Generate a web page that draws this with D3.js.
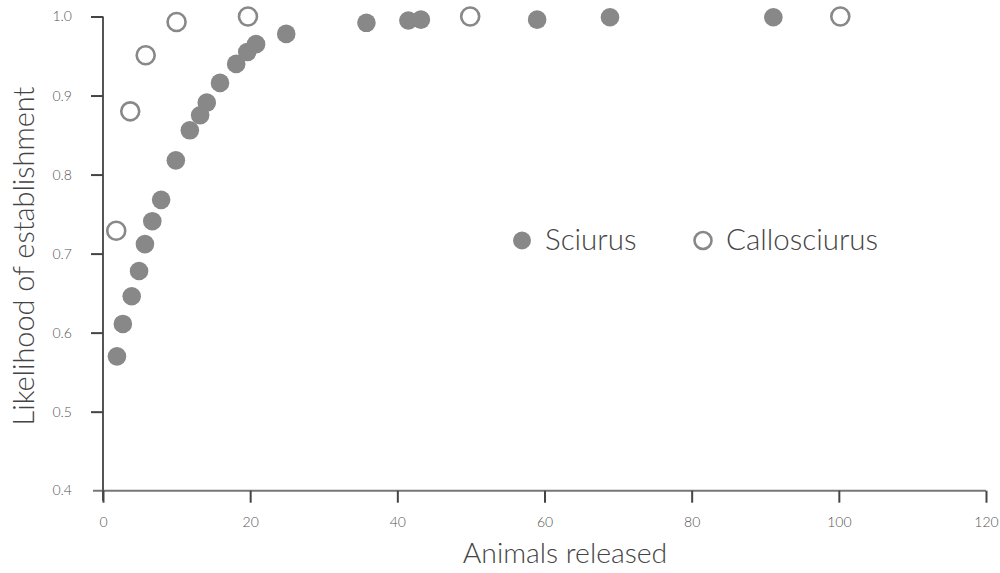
<!DOCTYPE html>
<html>
<head>
<meta charset="utf-8">
<script src="https://cdn.jsdelivr.net/npm/d3@7"></script>
<style>
  body { margin: 0; background: #fff; }
  svg { font-family: Lato, "Open Sans", sans-serif; font-weight: 300; }
  .tick text { fill: #555; font-size: 14px; }
  .tick line { stroke: #444; stroke-width: 2; }
</style>
</head>
<body>
<div id="chart"></div>
<script>
// Sciurus (filled markers)
var sciurusX = [1.9, 2.7, 3.9, 4.9, 5.7, 6.7, 7.9, 9.9, 11.8, 13.2, 14.1, 15.9, 18.1, 19.6, 20.8, 24.9, 35.8, 41.5, 43.2, 59.0, 68.9, 91.1];
var sciurusY = [0.570, 0.611, 0.646, 0.678, 0.712, 0.741, 0.768, 0.818, 0.856, 0.875, 0.891, 0.916, 0.940, 0.955, 0.965, 0.978, 0.992, 0.995, 0.996, 0.996, 0.999, 0.999];
// Callosciurus (open markers)
var calloX = [1.8, 3.7, 5.8, 10.0, 19.7, 49.9, 100.2];
var calloY = [0.729, 0.880, 0.951, 0.993, 1.0, 1.0, 1.0];

var xTicks = [0, 20, 40, 60, 80, 100, 120];
var yTicks = [0.4, 0.5, 0.6, 0.7, 0.8, 0.9, 1.0];
var legendNames = ["Sciurus", "Callosciurus"];

var W = 1000, H = 573;
var svg = d3.select("#chart").append("svg")
    .attr("width", W)
    .attr("height", H);

var x = d3.scaleLinear().domain([0, 120]).range([103, 986]);
var y = d3.scaleLinear().domain([0.4, 1.0]).range([490.7, 16.5]);

// axis lines
svg.append("line")
    .attr("x1", x(0) - 10).attr("x2", x(120))
    .attr("y1", y(0.4)).attr("y2", y(0.4))
    .attr("stroke", "#777").attr("stroke-width", 2);
svg.append("line")
    .attr("x1", x(0)).attr("x2", x(0))
    .attr("y1", y(1.0)).attr("y2", y(0.4) + 10)
    .attr("stroke", "#555").attr("stroke-width", 2);

var gx = svg.append("g")
    .attr("transform", "translate(0," + y(0.4) + ")")
    .call(d3.axisBottom(x).tickValues(xTicks).tickSize(12).tickPadding(14))
    .attr("font-family", null).attr("font-size", null);
gx.select(".domain").remove();

var gy = svg.append("g")
    .attr("transform", "translate(" + x(0) + ",0)")
    .call(d3.axisLeft(y).tickValues(yTicks.slice(1)).tickSize(12).tickPadding(19).tickFormat(d3.format(".1f")))
    .attr("font-family", null).attr("font-size", null);
gy.select(".domain").remove();
// 0.4 label without tick
svg.append("text")
    .attr("x", x(0) - 31).attr("y", y(0.4))
    .attr("dy", "0.32em")
    .attr("text-anchor", "end")
    .attr("fill", "#555").attr("font-size", 14)
    .text(d3.format(".1f")(yTicks[0]));

// points
var sciurus = sciurusX.map(function(d, i) { return [d, sciurusY[i]]; });
var callo = calloX.map(function(d, i) { return [d, calloY[i]]; });

svg.selectAll(".sci")
    .data(sciurus)
  .enter().append("circle")
    .attr("class", "sci")
    .attr("cx", function(d) { return x(d[0]); })
    .attr("cy", function(d) { return y(d[1]); })
    .attr("r", 9.3)
    .attr("fill", "#888");

svg.selectAll(".cal")
    .data(callo)
  .enter().append("circle")
    .attr("class", "cal")
    .attr("cx", function(d) { return x(d[0]); })
    .attr("cy", function(d) { return y(d[1]); })
    .attr("r", 9)
    .attr("fill", "#fff")
    .attr("stroke", "#888")
    .attr("stroke-width", 2.6);

// legend
var leg = svg.append("g");
leg.append("circle").attr("cx", 522).attr("cy", 240.5).attr("r", 9).attr("fill", "#888");
leg.append("text").attr("x", 545).attr("y", 250).attr("font-size", 29.5).attr("fill", "#444").text(legendNames[0]);
leg.append("circle").attr("cx", 703).attr("cy", 240.5).attr("r", 8.5)
    .attr("fill", "#fff").attr("stroke", "#888").attr("stroke-width", 2.6);
leg.append("text").attr("x", 726).attr("y", 250).attr("font-size", 29.5).attr("fill", "#444").text(legendNames[1]);

// axis titles
svg.append("text")
    .attr("x", 565).attr("y", 563)
    .attr("text-anchor", "middle")
    .attr("font-size", 28.4).attr("fill", "#444")
    .text("Animals released");
svg.append("text")
    .attr("transform", "translate(34,256) rotate(-90)")
    .attr("text-anchor", "middle")
    .attr("font-size", 28.9).attr("fill", "#444")
    .text("Likelihood of establishment");
</script>
</body>
</html>
